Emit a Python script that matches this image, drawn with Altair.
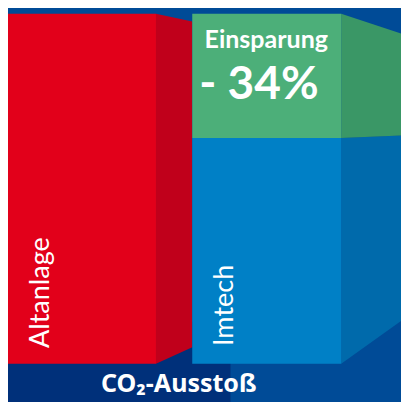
import altair as alt
import pandas as pd

# ---------------- data ----------------
categories = ["Altanlage", "Imtech"]
co2_values = [100, 64.5]            # relative CO2 output as drawn (Altanlage = 100)
saving_name = "Einsparung"
saving_text = "- 34%"
footer_text = "CO\u2082-Aussto\u00df"

# ---------------- layout / style ----------------
W, H = 393, 394                     # fits the page inside its 8px margin
x_domain = [8, 409]                 # horizontal layout units
y_domain = [-10.897, 101.655]
bar_left = [8, 196]
bar_width = [151, 152]
side_depth = [37, 61]
vp_x, vp_v = 690, 68.55             # vanishing point of the side faces
front_col = {"Altanlage": "#e2001a", "Imtech": "#0080c6", "Einsparung": "#4caf79"}
side_col = {"Altanlage": "#c0001b", "Imtech": "#006aab", "Einsparung": "#3a9766"}
navy = "#00307a"
bg = "#004b97"
font = "Lato"

xs = alt.Scale(domain=x_domain, nice=False, zero=False)
ys = alt.Scale(domain=y_domain, nice=False, zero=False)

top = co2_values[0]
segments = [
    (categories[0], 0, 0, co2_values[0]),
    (categories[1], 1, 0, co2_values[1]),
    (saving_name, 1, co2_values[1], top),
]
front_rows, side_rows = [], []
for name, i, v0, v1 in segments:
    x0 = bar_left[i]
    x1 = x0 + bar_width[i]
    front_rows.append(dict(seg=name, x0=x0, x1=x1, v0=v0, v1=v1, c=front_col[name]))
    f = 1 - side_depth[i] / (vp_x - x1)
    side_rows.append(dict(seg=name, x=x1, lo=v0, hi=v1, c=side_col[name]))
    side_rows.append(dict(seg=name, x=x1 + side_depth[i],
                          lo=vp_v + (v0 - vp_v) * f, hi=vp_v + (v1 - vp_v) * f,
                          c=side_col[name]))
front_df = pd.DataFrame(front_rows)
side_df = pd.DataFrame(side_rows)
panel_df = pd.DataFrame([dict(x0=8, x1=235, v0=y_domain[0], v1=12)])

panel = alt.Chart(panel_df).mark_rect(color=navy).encode(
    x=alt.X("x0:Q", scale=xs, axis=None), x2="x1",
    y=alt.Y("v0:Q", scale=ys, axis=None), y2="v1")

fronts = alt.Chart(front_df).mark_rect().encode(
    x=alt.X("x0:Q", scale=xs, axis=None), x2="x1",
    y=alt.Y("v0:Q", scale=ys, axis=None), y2="v1",
    color=alt.Color("c:N", scale=None))

sides = alt.Chart(side_df).mark_area(interpolate="linear").encode(
    x=alt.X("x:Q", scale=xs, axis=None),
    y=alt.Y("lo:Q", scale=ys, axis=None, stack=None), y2="hi",
    color=alt.Color("c:N", scale=None),
    detail="seg:N")

green_cx = bar_left[1] + bar_width[1] / 2


def txt(rows, **kw):
    return alt.Chart(pd.DataFrame(rows)).mark_text(color="white", **kw).encode(
        x=alt.X("x:Q", scale=xs, axis=None),
        y=alt.Y("y:Q", scale=ys, axis=None),
        text="t:N")


t_name = txt([dict(x=green_cx - 0.5, y=90.34, t=saving_name)],
             font=font, fontSize=25, fontWeight="bold", align="center", baseline="alphabetic")
t_pct = txt([dict(x=green_cx - 8, y=75.72, t=saving_text)],
            font=font, fontSize=46, fontWeight="bold", align="center", baseline="alphabetic")
t_cats = txt([dict(x=bar_left[0] + 42, y=4.55, t=categories[0]),
              dict(x=bar_left[1] + 42, y=5.10, t=categories[1])],
             font=font, fontSize=27, angle=270, align="left", baseline="alphabetic")
t_foot = txt([dict(x=182.3, y=-7.9, t=footer_text)],
             font="Noto Sans", fontSize=25, fontWeight="bold", align="center", baseline="alphabetic")

chart = alt.layer(panel, sides, fronts, t_name, t_pct, t_cats, t_foot).properties(
    width=W, height=H, padding=0, background=bg,
    autosize=alt.AutoSizeParams(type="none"),
).configure_view(stroke=None)

chart.save("out.html", embed_options={"renderer": "svg", "actions": False})
